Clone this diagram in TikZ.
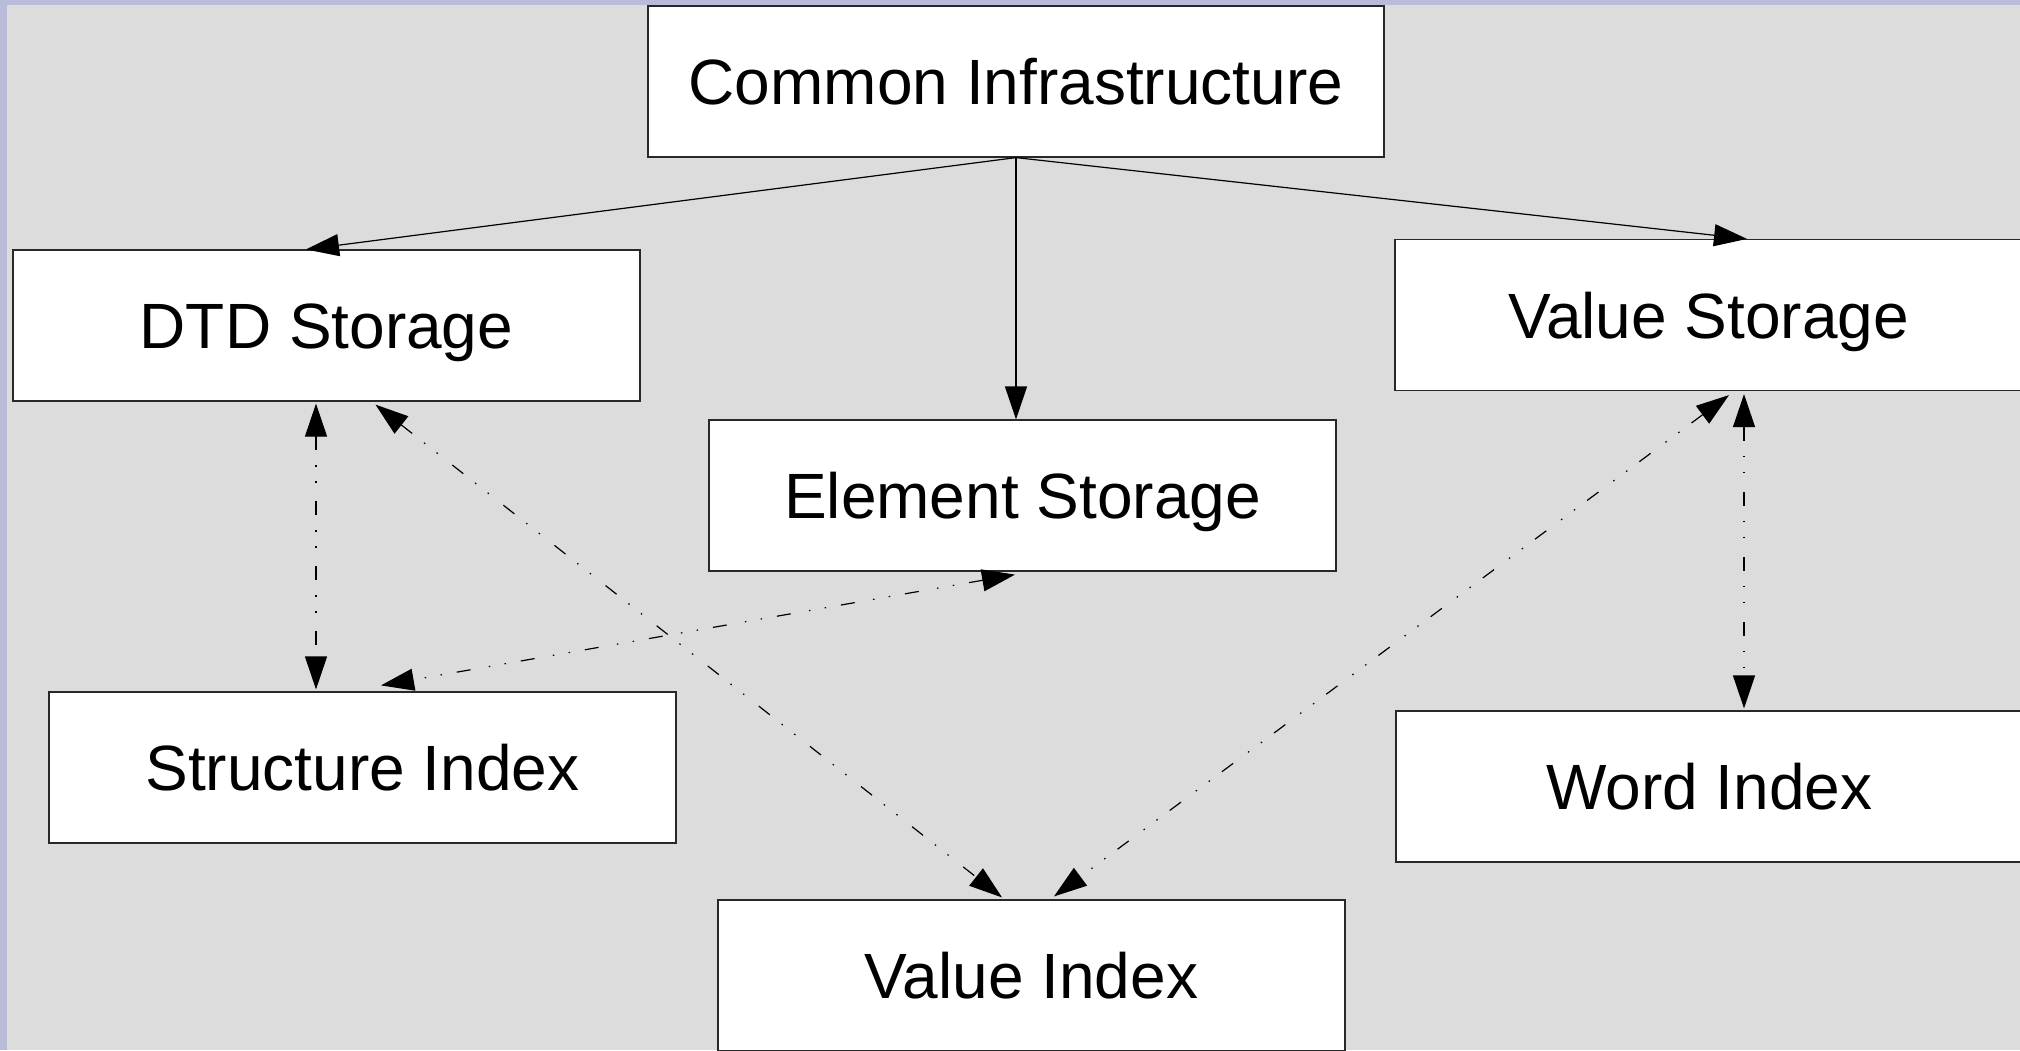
\documentclass[tikz,border=0pt]{standalone}
\usepackage{fontspec}
\setmainfont{Liberation Sans}
\usetikzlibrary{arrows.meta}
\definecolor{framebg}{RGB}{184,188,216}
\definecolor{canvas}{RGB}{220,220,220}
\definecolor{boxline}{RGB}{40,40,40}
\begin{document}
\begin{tikzpicture}[x=1pt,y=1pt,
  module/.style={draw=boxline, line width=1.2pt, fill=white,
    minimum width=627pt, minimum height=151pt, inner sep=0pt,
    text height=46pt, text depth=0pt,
    font=\fontsize{64}{76}\selectfont},
  feeds/.style={line width=1.2pt, -{Triangle[length=33pt,width=22pt]}},
  link/.style={line width=1.2pt,
    dash pattern=on 14pt off 15pt on 1.5pt off 14.5pt on 1.5pt off 18.5pt,
    {Triangle[length=33pt,width=22pt]}-{Triangle[length=33pt,width=22pt]}}]
  \useasboundingbox (0,0) rectangle (2020,-1050);
  \clip (0,0) rectangle (2020,-1050);
  % page frame and canvas
  \fill[framebg] (0,0) rectangle (2020,-1050);
  \fill[canvas] (7,-5) rectangle (2020,-1050);

  % modules
  \node[module, minimum width=736pt] (ci) at (1016,-81.5) {Common Infrastructure};
  \node[module] (dtd) at (326.5,-325.5) {DTD Storage};
  \node[module] (vs)  at (1708.5,-315) {Value Storage};
  \node[module] (es)  at (1022.5,-495.5) {Element Storage};
  \node[module] (si)  at (362.5,-767.5) {Structure Index};
  \node[module] (wi)  at (1709.5,-786.5) {Word Index};
  \node[module] (vi)  at (1031.5,-975.5) {Value Index};

  % dependencies on the common infrastructure
  \draw[feeds] (ci.south) -- ([xshift=-20.5pt]dtd.north);
  \draw[feeds] (ci.south) -- (ci.south |- es.north);
  \draw[feeds] (ci.south) -- ([xshift=38.5pt]vs.north);

  % mutual links between storages and indexes
  \draw[link] ([xshift=-10.5pt,yshift=-2pt]dtd.south) -- ([xshift=-46.5pt,yshift=2pt]si.north);
  \draw[link] ([xshift=49pt,yshift=-3pt]dtd.south) -- ([xshift=-29.5pt,yshift=2pt]vi.north);
  \draw[link] ([xshift=-7.5pt,yshift=-3pt]es.south) -- ([xshift=18.5pt,yshift=6pt]si.north);
  \draw[link] ([xshift=20.5pt,yshift=-4pt]vs.south) -- ([xshift=22.5pt,yshift=3pt]vi.north);
  \draw[link] ([xshift=35.5pt,yshift=-3pt]vs.south) -- ([xshift=34.5pt,yshift=2pt]wi.north);
\end{tikzpicture}
\end{document}
